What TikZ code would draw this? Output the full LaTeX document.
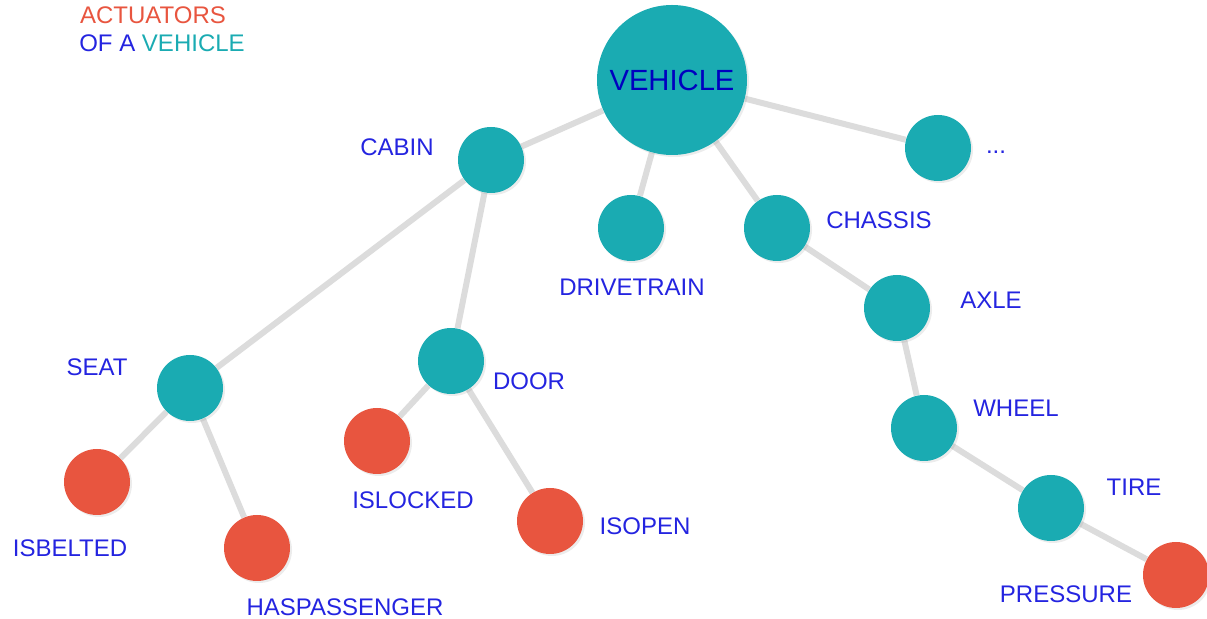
\documentclass[tikz,border=0pt]{standalone}
\usepackage{fontspec}
\setmainfont{Liberation Sans}
\usepackage{tikz}
\usetikzlibrary{backgrounds,shadows}
\definecolor{tealnode}{HTML}{1AABB2}
\definecolor{rednode}{HTML}{E8553F}
\definecolor{labelblue}{HTML}{2424E0}
\definecolor{edgegray}{HTML}{DCDCDC}
\tikzstyle{part} = [circle, fill=tealnode, minimum size=33pt, inner sep=0pt,
    drop shadow={opacity=0.15, shadow xshift=1pt, shadow yshift=-1pt}]
\tikzstyle{actuator} = [circle, fill=rednode, minimum size=33pt, inner sep=0pt,
    drop shadow={opacity=0.15, shadow xshift=1pt, shadow yshift=-1pt}]
\tikzstyle{root} = [circle, fill=tealnode, minimum size=75pt, inner sep=0pt,
    text=blue!75!black, font=\fontsize{14.6}{16}\selectfont,
    drop shadow={opacity=0.15, shadow xshift=1pt, shadow yshift=-1pt}]
\tikzstyle{tag} = [text=labelblue, font=\fontsize{12}{14}\selectfont, inner sep=0pt]
\tikzstyle{line} = [draw=edgegray, line width=3pt]

\begin{document}
\begin{tikzpicture}
[x=0.5pt, y=-0.5pt]
    \useasboundingbox (0,0) rectangle (1207,619);

    % Title
    \node [tag, text=rednode] (title1) at (153,15) {ACTUATORS};
    \node [tag] (title2) at (162,43) {OF A \textcolor{tealnode}{VEHICLE}};

    % Place nodes
    \node [root] (vehicle) at (672,80) {VEHICLE};
    \node [part] (cabin) at (491,160) {};
    \node [part] (drivetrain) at (631,228) {};
    \node [part] (chassis) at (777,228) {};
    \node [part] (more) at (938,148) {};
    \node [part] (seat) at (190,388) {};
    \node [part] (door) at (451,361) {};
    \node [part] (axle) at (897,308) {};
    \node [part] (wheel) at (924,428) {};
    \node [part] (tire) at (1051,508) {};
    \node [actuator] (isbelted) at (97,482) {};
    \node [actuator] (haspassenger) at (257,548) {};
    \node [actuator] (islocked) at (377,441) {};
    \node [actuator] (isopen) at (550,521) {};
    \node [actuator] (pressure) at (1176,575) {};

    % Place labels
    \node [tag] (cabinlabel) at (397,147) {CABIN};
    \node [tag] (drivetrainlabel) at (632,287) {DRIVETRAIN};
    \node [tag] (chassislabel) at (879,220) {CHASSIS};
    \node [tag] (morelabel) at (996,152) {...};
    \node [tag] (axlelabel) at (991,300) {AXLE};
    \node [tag] (wheellabel) at (1016,408) {WHEEL};
    \node [tag] (tirelabel) at (1134,487) {TIRE};
    \node [tag] (pressurelabel) at (1066,594) {PRESSURE};
    \node [tag] (seatlabel) at (97,367) {SEAT};
    \node [tag] (doorlabel) at (529,381) {DOOR};
    \node [tag] (isbeltedlabel) at (70,548) {ISBELTED};
    \node [tag] (haspassengerlabel) at (345,607) {HASPASSENGER};
    \node [tag] (islockedlabel) at (413,500) {ISLOCKED};
    \node [tag] (isopenlabel) at (645,526) {ISOPEN};

    % Draw edges
    \begin{scope}[on background layer]
    \path [line] (vehicle) -- (cabin);
    \path [line] (vehicle) -- (drivetrain);
    \path [line] (vehicle) -- (chassis);
    \path [line] (vehicle) -- (more);
    \path [line] (cabin) -- (seat);
    \path [line] (cabin) -- (door);
    \path [line] (seat) -- (isbelted);
    \path [line] (seat) -- (haspassenger);
    \path [line] (door) -- (islocked);
    \path [line] (door) -- (isopen);
    \path [line] (chassis) -- (axle);
    \path [line] (axle) -- (wheel);
    \path [line] (wheel) -- (tire);
    \path [line] (tire) -- (pressure);
    \end{scope}

\end{tikzpicture}
\end{document}
